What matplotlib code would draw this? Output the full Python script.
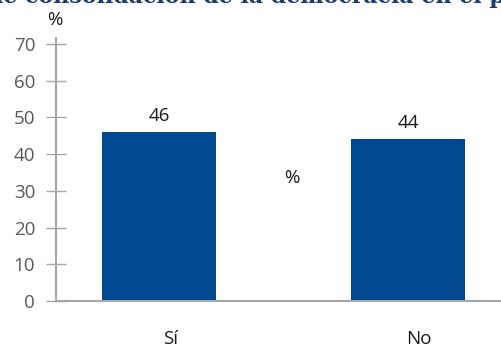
import matplotlib
matplotlib.use("Agg")
import matplotlib.pyplot as plt
import matplotlib.transforms as mtransforms

categories = ["Sí", "No"]
values = [46, 44]
yticks = [0, 10, 20, 30, 40, 50, 60, 70]
title = "de consolidación de la democracia en el país"
title_head = "de consolidación de la democracia en el "
title_tail = "e consolidación de la democracia en el "

BAR = "#004990"
AXIS = "#a6a6a6"
FS = 13.5

plt.rcParams["font.family"] = ["Open Sans", "DejaVu Sans"]

W, H = 501, 349
fig = plt.figure(figsize=(W / 100, H / 100), dpi=100)
ax = fig.add_axes([56 / W, (H - 301) / H, (W - 56) / W, 263 / H])

x = list(range(len(categories)))
ax.bar(x, values, width=0.458, color=BAR, zorder=2)
ax.set_xlim(-0.414, 1.373)
ax.set_ylim(0, 71.6)

for s in ["top", "right"]:
    ax.spines[s].set_visible(False)
for s in ["left", "bottom"]:
    ax.spines[s].set_color(AXIS)
    ax.spines[s].set_linewidth(1.5)
    ax.spines[s].set_zorder(3)

ax.set_yticks(yticks)
ax.set_yticklabels([str(v) for v in yticks])
ax.tick_params(axis="y", direction="inout", length=14, width=1, color=AXIS,
               labelsize=FS, labelcolor="#595959", pad=8)
ax.set_xticks([])

for xi, v in zip(x, values):
    ax.annotate(str(v), (xi, v), xytext=(0, 5), textcoords="offset points",
                ha="center", va="bottom", fontsize=FS, color="#1a1a1a")

lab_tr = mtransforms.blended_transform_factory(ax.transData, ax.transAxes)
for xi, c in zip(x, categories):
    ax.text(xi + 0.045, -0.145, c, transform=lab_tr, ha="center", va="center",
            fontsize=FS, color="#1a1a1a")

fig.text(55 / W, 1 - 20 / H, "%", ha="center", va="center", fontsize=FS, color="#1a1a1a")
fig.text(292 / W, 1 - 178 / H, "%", ha="center", va="center", fontsize=FS, color="#1a1a1a")

# Title sits mostly above the canvas: "e consolidación ..." runs from the left
# edge and the "p" of "país" starts near the right edge
renderer = fig.canvas.get_renderer()


def text_width(s, size):
    t = fig.text(0, 0, s, fontsize=size, fontweight="bold", family="DejaVu Serif")
    w = t.get_window_extent(renderer).width
    t.remove()
    return w


title_fs = 10 * 489 / text_width(title_tail, 10)
head_w = text_width(title_head, title_fs)
fig.text((489 - head_w) / W, 1 - 3 / H, title, ha="left", va="baseline", fontsize=title_fs,
         fontweight="bold", family="DejaVu Serif", color="#1a3a70")

fig.savefig("out.png", dpi=100)
